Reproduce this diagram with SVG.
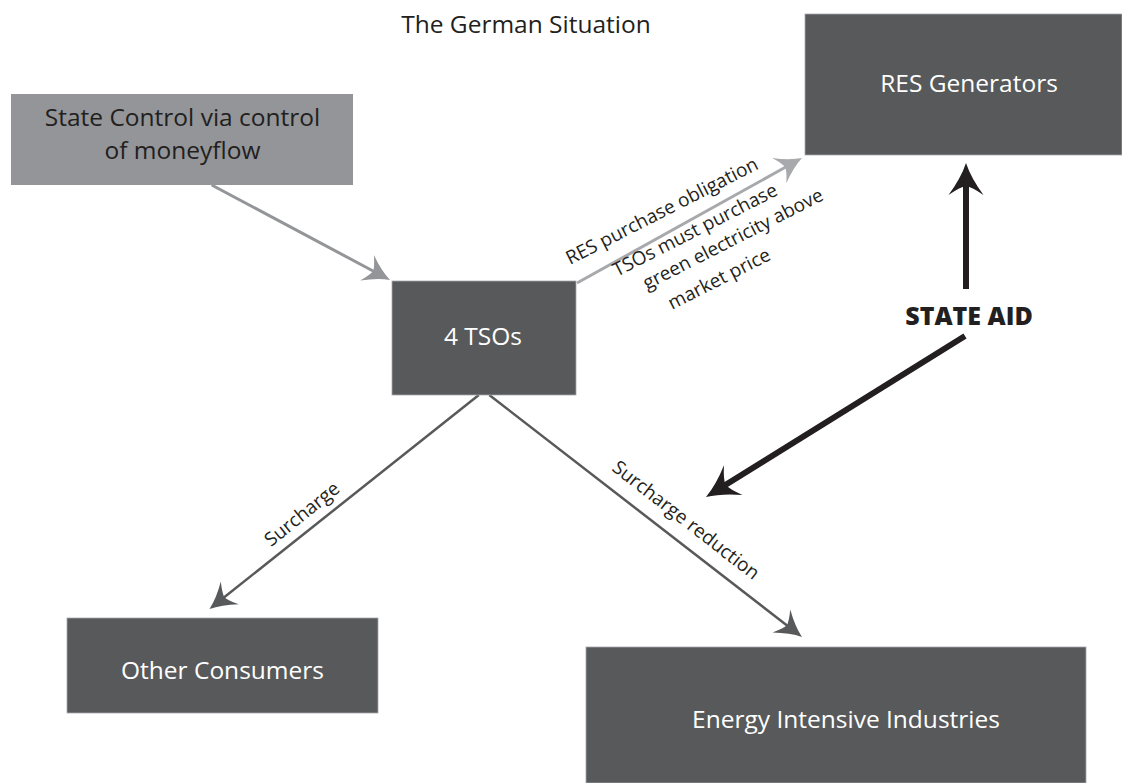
<svg xmlns="http://www.w3.org/2000/svg" width="1122" height="783" viewBox="0 0 1122 783">
  <style>
    .box { fill: #58595b; stroke: #a7a9ac; stroke-width: 0.8; }
    .lbox { fill: #939598; }
    .wt { font-family: "Open Sans", "Liberation Sans", sans-serif; font-size: 24.5px; fill: #ffffff; text-anchor: middle; }
    .dt { font-family: "Open Sans", "Liberation Sans", sans-serif; font-size: 24.5px; fill: #231f20; text-anchor: middle; }
    .lbl { font-family: "Open Sans", "Liberation Sans", sans-serif; font-size: 19px; fill: #231f20; }
    .aid { font-family: "Open Sans", "Liberation Sans", sans-serif; font-size: 25px; font-weight: 800; fill: #231f20; text-anchor: middle; }
    .c { fill: none; stroke-linecap: butt; }
  </style>
  <defs>
    <marker id="mA" markerUnits="userSpaceOnUse" orient="auto" refX="0" refY="0" markerWidth="40" markerHeight="40" overflow="visible">
      <path d="M16,0 Q4,-4 -10,-14.5 Q-4,-5 -3,0 Q-4,5 -10,14.5 Q4,4 16,0 Z" fill="#939598"/>
    </marker>
    <marker id="mB" markerUnits="userSpaceOnUse" orient="auto" refX="0" refY="0" markerWidth="40" markerHeight="40" overflow="visible">
      <path d="M16,0 Q4,-4 -10,-14.5 Q-4,-5 -3,0 Q-4,5 -10,14.5 Q4,4 16,0 Z" fill="#a7a9ac"/>
    </marker>
    <marker id="mC" markerUnits="userSpaceOnUse" orient="auto" refX="0" refY="0" markerWidth="40" markerHeight="40" overflow="visible">
      <path d="M16,0 Q4,-4 -10,-14.5 Q-4,-5 -3,0 Q-4,5 -10,14.5 Q4,4 16,0 Z" fill="#58595b"/>
    </marker>
    <marker id="mK" markerUnits="userSpaceOnUse" orient="auto" refX="0" refY="0" markerWidth="50" markerHeight="50" overflow="visible">
      <path d="M18,0 Q3,-5 -14,-17.5 Q-6,-6 -5,0 Q-6,6 -14,17.5 Q3,5 18,0 Z" fill="#231f20"/>
    </marker>
  </defs>

  <rect width="1122" height="783" fill="#ffffff"/>

  <text id="title" class="dt" x="526" y="33">The German Situation</text>

  <g id="connectors">
    <line class="c" x1="211.7" y1="185" x2="375.9" y2="272.5" stroke="#939598" stroke-width="3" marker-end="url(#mA)"/>
    <line class="c" x1="577" y1="283" x2="788" y2="165.8" stroke="#a7a9ac" stroke-width="3" marker-end="url(#mB)"/>
    <line class="c" x1="478.8" y1="395" x2="222" y2="599" stroke="#58595b" stroke-width="2.5" marker-end="url(#mC)"/>
    <line class="c" x1="489.3" y1="395" x2="789.3" y2="627.2" stroke="#58595b" stroke-width="2.5" marker-end="url(#mC)"/>
    <line class="c" x1="966" y1="289" x2="966" y2="181" stroke="#231f20" stroke-width="6" marker-end="url(#mK)"/>
    <line class="c" x1="965" y1="336" x2="721.3" y2="487.5" stroke="#231f20" stroke-width="6" marker-end="url(#mK)"/>

    <g id="res-label" class="lbl">
      <text transform="translate(570,265) rotate(-27)">RES purchase obligation</text>
      <text transform="translate(617,277) rotate(-27)">TSOs must purchase</text>
      <text transform="translate(647,290) rotate(-27)">green electricity above</text>
      <text transform="translate(672,310) rotate(-27)">market price</text>
    </g>
    <text class="lbl" text-anchor="middle" transform="translate(302,514) rotate(-38.8)" y="6.5">Surcharge</text>
    <text class="lbl" text-anchor="middle" transform="translate(686,520) rotate(37.9)" y="6.5">Surcharge reduction</text>
    <text id="state-aid" class="aid" x="969" y="325">STATE AID</text>
  </g>

  <g id="state-control">
    <rect class="lbox" x="11" y="94" width="342" height="91"/>
    <text class="dt" x="182.5" y="126">State Control via control</text>
    <text class="dt" x="182.5" y="159">of moneyflow</text>
  </g>

  <g id="res-generators">
    <rect class="box" x="805" y="14" width="317" height="141"/>
    <text class="wt" x="969" y="92">RES Generators</text>
  </g>

  <g id="tsos">
    <rect class="box" x="392" y="281" width="184" height="114"/>
    <text class="wt" x="483" y="345">4 TSOs</text>
  </g>

  <g id="other-consumers">
    <rect class="box" x="67" y="618" width="311" height="95"/>
    <text class="wt" x="222.5" y="679">Other Consumers</text>
  </g>

  <g id="energy-intensive">
    <rect class="box" x="586" y="647" width="500" height="136"/>
    <text class="wt" x="846" y="728">Energy Intensive Industries</text>
  </g>
</svg>
